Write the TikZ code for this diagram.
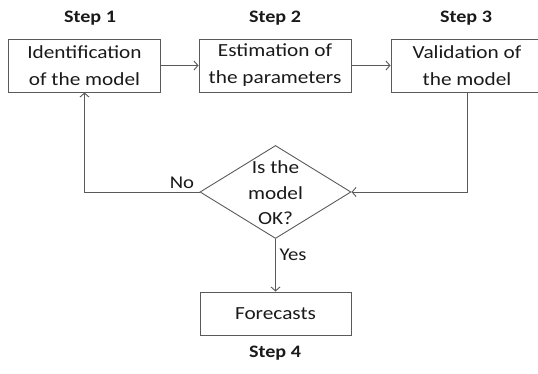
\documentclass[tikz,border=0pt]{standalone}
\usepackage{fontspec}
\setmainfont{Carlito}[FakeStretch=1.15]
\usetikzlibrary{shapes.geometric,arrows.meta}
\definecolor{linec}{HTML}{5A5A5A}
\definecolor{textc}{HTML}{1A1A1A}
\begin{document}
\begin{tikzpicture}[x=1pt,y=-1pt,
  box/.style={draw=linec,line width=0.9pt,minimum width=152pt,minimum height=53pt,inner sep=0pt,
    align=center,text=textc,font=\fontsize{18.5}{27}\selectfont},
  steplbl/.style={text=textc,font=\fontsize{17.5}{20}\selectfont\bfseries,inner sep=0pt},
  lbl/.style={text=textc,font=\fontsize{18}{20}\selectfont,inner sep=0pt},
  conn/.style={draw=linec,line width=0.9pt,-{Straight Barb[length=4pt,width=9pt]}}]
\useasboundingbox (0,0) rectangle (538,374);
\node[box] (b1) at (84.5,65.5) {Identification\\of the model};
\node[box] (b2) at (275,65.5) {Estimation of\\the parameters};
\node[box] (b3) at (467,65.5) {Validation of\\the model};
\node[draw=linec,line width=0.9pt,diamond,minimum width=151pt,minimum height=93pt,inner sep=0pt] (d) at (275.5,192) {};
\node[text=textc,align=center,inner sep=0pt,font=\fontsize{18.5}{25.5}\selectfont] (dt) at (275.5,193) {Is the\\model\\OK?};
\node[box,minimum width=151pt,minimum height=43pt] (f) at (275.5,313.5) {Forecasts};
\node[steplbl] (s1) at (90,18) {Step 1};
\node[steplbl] (s2) at (275,18) {Step 2};
\node[steplbl] (s3) at (466,18) {Step 3};
\node[steplbl] (s4) at (275,353) {Step 4};
\draw[conn] (b1.east) -- (b2.west);
\draw[conn] (b2.east) -- (b3.west);
\draw[conn] (b3.south) |- (d.east);
\draw[conn] (d.west) -| (b1.south);
\draw[conn] (d.south) -- (f.north);
\node[lbl] (no) at (182,183) {No};
\node[lbl] (yes) at (293,255) {Yes};
\end{tikzpicture}
\end{document}
